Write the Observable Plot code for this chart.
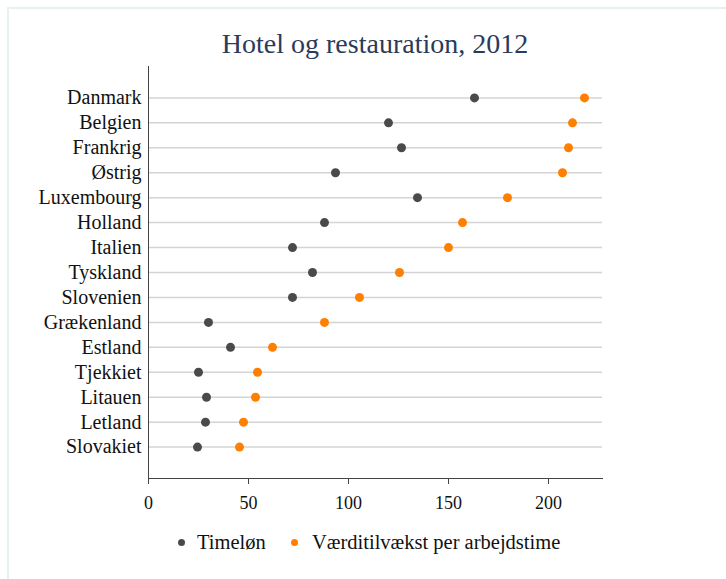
<!DOCTYPE html>
<html>
<head>
<meta charset="utf-8">
<script src="https://cdn.jsdelivr.net/npm/d3@7"></script>
<script src="https://cdn.jsdelivr.net/npm/@observablehq/plot@0.6"></script>
<style>
  html, body { margin: 0; padding: 0; background: #fff; width: 726px; height: 579px; overflow: hidden; }
  #frame { position: absolute; left: 7px; top: 7px; width: 800px; height: 700px; border-left: 2px solid #e9f0f0; border-top: 2px solid #e9f0f0; }
  #title { position: absolute; left: 148px; width: 454px; top: 28px; text-align: center; font-family: "Liberation Serif", serif; font-size: 28px; color: #2b3a5a; white-space: nowrap; }
  #chart { position: absolute; left: 0; top: 60px; }
  .leg { position: absolute; font-family: "Liberation Serif", serif; font-size: 20.5px; color: #111; white-space: nowrap; }
  .dot { position: absolute; width: 7px; height: 7px; border-radius: 50%; }
</style>
</head>
<body>
<div id="frame"></div>
<div id="title">Hotel og restauration, 2012</div>
<div id="chart"></div>
<div class="dot" style="left:178px; top:539px; background:#4a4a4a"></div>
<div class="leg" style="left:197px; top:531px">Timeløn</div>
<div class="dot" style="left:291px; top:539px; background:#ff7f00"></div>
<div class="leg" style="left:312px; top:531px">Værditilvækst per arbejdstime</div>
<script>
const countries = ["Danmark","Belgien","Frankrig","Østrig","Luxembourg","Holland","Italien","Tyskland","Slovenien","Grækenland","Estland","Tjekkiet","Litauen","Letland","Slovakiet"];
const timelon = [163,120,126.5,93.5,134.5,88,72,82,72,30,41,25,29,28.5,24.5];
const vaerditilvaekst = [218,212,210,207,179.5,157,150,125.5,105.5,88,62,54.5,53.5,47.5,45.5];
const xTicks = [0,50,100,150,200];

const rowsT = countries.map((c,i) => ({country: c, value: timelon[i]}));
const rowsV = countries.map((c,i) => ({country: c, value: vaerditilvaekst[i]}));

const plot = Plot.plot({
  width: 726,
  height: 460,
  marginTop: 6,
  marginBottom: 42,
  marginLeft: 148,
  marginRight: 124,
  style: { fontFamily: "Liberation Serif, serif", fontSize: "20px", color: "#111", background: "transparent", overflow: "visible" },
  x: { domain: [0, 227] },
  y: { type: "point", domain: countries, padding: 1.26, round: false },
  marks: [
    Plot.gridY({ stroke: "#d4d4d4", strokeOpacity: 1, strokeWidth: 1.5 }),
    Plot.frame({ anchor: "left", stroke: "#444" }),
    Plot.frame({ anchor: "bottom", stroke: "#444" }),
    Plot.axisY({ tickSize: 0, tickPadding: 7, label: null, fontSize: 20 }),
    Plot.axisX({ ticks: xTicks, tickSize: 6, tickPadding: 12, label: null, fontSize: 18, stroke: "#444" }),
    Plot.dot(rowsT, { x: "value", y: "country", r: 4.5, fill: "#4a4a4a", stroke: null }),
    Plot.dot(rowsV, { x: "value", y: "country", r: 4.5, fill: "#ff7f00", stroke: null })
  ]
});
document.getElementById("chart").appendChild(plot);
</script>
</body>
</html>
